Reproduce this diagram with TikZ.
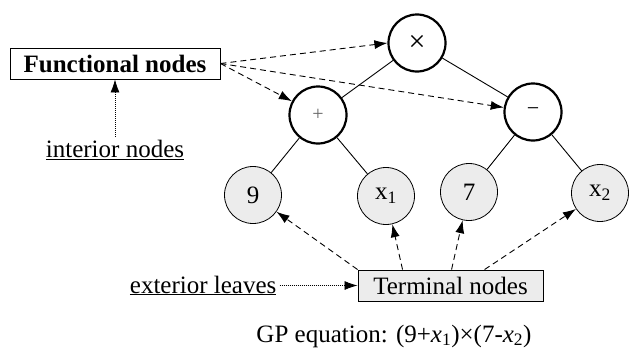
\documentclass[tikz,border=0pt]{standalone}
\usepackage{fontspec}
\setmainfont{Liberation Serif}
\usepackage{tikz}
\usetikzlibrary{arrows.meta,positioning,calc}

\begin{document}
\begin{tikzpicture}[x=1pt,y=-1pt,font=\fontsize{25}{30}\selectfont,>={Latex[length=13pt,width=9pt]}]
\tikzstyle{op}=[draw,circle,line width=2.2pt,minimum size=57pt,inner sep=0pt]
\tikzstyle{leaf}=[draw,circle,line width=0.8pt,minimum size=57pt,inner sep=0pt,fill=gray!15]
\tikzstyle{lbl}=[draw,line width=0.9pt,minimum height=31pt,inner sep=0pt]
\tikzstyle{edge}=[line width=0.9pt]
\tikzstyle{pointer}=[->,dashed,line width=0.9pt,dash pattern=on 6pt off 4pt]
\tikzstyle{note}=[->,dotted,line width=0.8pt,dash pattern=on 1pt off 1pt]
\useasboundingbox (0,0) rectangle (629,348);
% operators
\node[op] (mul) at (417,43) {\fontsize{30}{30}\selectfont ×};
\node[op] (plus) at (318,115) {\fontsize{20}{20}\selectfont\color{gray!80!black}+};
\node[op] (minus) at (533,112) {\fontsize{22}{22}\selectfont −};
% leaves
\node[leaf] (nine) at (253,195) {9};
\node[leaf] (xone) at (386,196) {x\textsubscript{1}};
\node[leaf] (seven) at (469,192) {7};
\node[leaf] (xtwo) at (600,193) {x\textsubscript{2}};
% labels
\node[lbl,minimum width=210pt] (func) at (115,63.5) {\bfseries Functional nodes};
\node (inner) at (115,150) {\underline{interior nodes}};
\node[lbl,minimum width=185pt,fill=gray!15] (term) at (450.5,285.5) {Terminal nodes};
\node[left=78pt of term,inner sep=3pt] (outer) {\underline{exterior leaves}};
\node (gp) at (394,336) {GP equation: (9+\textit{x}\textsubscript{1})×(7-\textit{x}\textsubscript{2})};
% tree
\draw[edge] (mul) -- (plus);
\draw[edge] (mul) -- (minus);
\draw[edge] (plus) -- (nine);
\draw[edge] (plus) -- (xone);
\draw[edge] (minus) -- (seven);
\draw[edge] (minus) -- (xtwo);
% pointers
\draw[pointer] (func.east) -- (mul.west);
\draw[pointer] (func.east) -- (plus);
\draw[pointer] (func.east) -- (minus);
\draw[pointer] (term.north west) -- (nine);
\draw[pointer] ([xshift=45pt]term.north west) -- (xone);
\draw[pointer] ([xshift=94pt]term.north west) -- (seven);
\draw[pointer] ([xshift=127pt]term.north west) -- (xtwo);
\draw[note] (inner.north) -- (func.south);
\draw[note] (outer.east) -- (term.west);
\end{tikzpicture}
\end{document}
